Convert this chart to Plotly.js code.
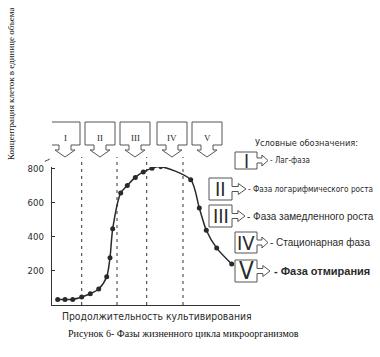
<!DOCTYPE html>
<html>
<head>
<meta charset="utf-8">
<script src="https://cdn.plot.ly/plotly-3.0.1.min.js"></script>
<style>html,body{margin:0;padding:0;background:#fff;}#chart{width:380px;height:357px;}</style>
</head>
<body>
<div id="chart"></div>
<script>
// ---- data (time in arbitrary units, concentration in cells per unit volume) ----
var timePoints = [5.7, 13, 20.7, 29.7, 38.3, 46.7, 54.7, 58, 60.7, 68.7, 75.3, 83.3, 91.3, 100, 108.7, 138.7, 147.3, 154.3, 164.7, 179.7];
var concentration = [33, 33, 33, 47, 66, 94, 166, 278, 447, 657, 702, 749, 781, 802, 812, 735, 569, 439, 334, 241];
var phaseBoundaries = [29.7, 65, 94.7, 131];
var phaseLabels = ['I', 'II', 'III', 'IV', 'V'];
var phaseNames = ['- Лаг-фаза', '- Фаза логарифмического роста', '- Фаза замедленного роста', '- Стационарная фаза', '- Фаза отмирания'];
var yTicks = [200, 400, 600, 800];

// ---- layout helpers (pixel -> paper) ----
var L = 52, R = 240, T = 167, B = 305;
function px(x) { return (x - L) / (R - L); }
function py(y) { return (B - y) / (B - T); }

var NARROW = 'Liberation Sans Narrow, Arial Narrow, DejaVu Sans Condensed, sans-serif';
var SANS = 'Liberation Sans, Arial, sans-serif';
var SERIF = 'Liberation Serif, Times New Roman, serif';
var INK = '#2a2a2a';

var shapes = [];
var annotations = [];

// dashed phase boundaries
phaseBoundaries.forEach(function (b) {
  shapes.push({type: 'line', xref: 'x', yref: 'paper', x0: b, x1: b, y0: 0, y1: py(157),
    line: {color: '#333', width: 1, dash: '3px,4px'}, layer: 'below'});
});

// top callout boxes with down arrows
var topCenters = [13, 48, 83, 120, 155];
topCenters.forEach(function (c, i) {
  var pts = [[c - 15, 122], [c + 15, 122], [c + 15, 145], [c + 6, 145], [c + 6, 150], [c + 10, 150], [c, 157],
             [c - 10, 150], [c - 6, 150], [c - 6, 145], [c - 15, 145]];
  var d = pts.map(function (p, k) { return (k ? 'L' : 'M') + p[0] + ',' + py(p[1]); }).join(' ') + ' Z';
  shapes.push({type: 'path', xref: 'x', yref: 'paper', path: d, line: {color: '#555', width: 1}, fillcolor: 'rgba(255,255,255,0)'});
  annotations.push({xref: 'x', yref: 'paper', x: c, y: py(138), text: phaseLabels[i], showarrow: false,
    font: {family: SERIF, size: 9, color: INK}, xanchor: 'center', yanchor: 'middle'});
});

// legend boxes with right arrows
var legendBoxes = [
  {x0: 235, x1: 257, y0: 152, y1: 169, tip: 268, tx: 268, fs: 8, ff: NARROW, nf: 19, bold: false},
  {x0: 209, x1: 232, y0: 178, y1: 200, tip: 246, tx: 246, fs: 8.2, ff: NARROW, nf: 20, bold: false},
  {x0: 209, x1: 232, y0: 205, y1: 227, tip: 245, tx: 245, fs: 10, ff: SANS, nf: 20, bold: false},
  {x0: 235, x1: 257, y0: 232, y1: 253, tip: 268, tx: 268, fs: 10, ff: SANS, nf: 20, bold: false},
  {x0: 235, x1: 257, y0: 260, y1: 282, tip: 270, tx: 272, fs: 11, ff: SANS, nf: 24, bold: true}
];
legendBoxes.forEach(function (b, i) {
  var cy = (b.y0 + b.y1) / 2;
  var s = b.x1 + (b.tip - b.x1) * 0.45;
  var pts = [[b.x0, b.y0], [b.x1, b.y0], [b.x1, cy - 2.5], [s, cy - 2.5], [s, cy - 5.5], [b.tip, cy],
             [s, cy + 5.5], [s, cy + 2.5], [b.x1, cy + 2.5], [b.x1, b.y1], [b.x0, b.y1]];
  var d = pts.map(function (p, k) { return (k ? 'L' : 'M') + px(p[0]) + ',' + py(p[1]); }).join(' ') + ' Z';
  shapes.push({type: 'path', xref: 'paper', yref: 'paper', path: d, line: {color: '#555', width: 1}, fillcolor: 'rgba(255,255,255,0)'});
  annotations.push({xref: 'paper', yref: 'paper', x: px((b.x0 + b.x1) / 2), y: py(cy), text: phaseLabels[i], showarrow: false,
    font: {family: NARROW, size: b.nf, color: INK}, xanchor: 'center', yanchor: 'middle'});
  var t = b.bold ? '<b>' + phaseNames[i] + '</b>' : phaseNames[i];
  annotations.push({xref: 'paper', yref: 'paper', x: px(b.tx), y: py(cy), text: t, showarrow: false,
    font: {family: b.ff, size: b.fs, color: INK}, xanchor: 'left', yanchor: 'middle'});
});

annotations.push({xref: 'paper', yref: 'paper', x: px(253), y: py(142), text: 'Условные обозначения:', showarrow: false,
  font: {family: NARROW, size: 9.2, color: INK}, xanchor: 'left', yanchor: 'middle'});
annotations.push({xref: 'paper', yref: 'paper', x: px(157), y: py(316), text: 'Продолжительность культивирования', showarrow: false,
  font: {family: NARROW, size: 10.3, color: INK}, xanchor: 'center', yanchor: 'middle'});
annotations.push({xref: 'paper', yref: 'paper', x: px(183), y: py(333), text: 'Рисунок 6- Фазы жизненного цикла микроорганизмов', showarrow: false,
  font: {family: SERIF, size: 10, color: '#111'}, xanchor: 'center', yanchor: 'middle'});
annotations.push({xref: 'paper', yref: 'paper', x: px(11), y: py(84), text: 'Концентрация клеток в единице объема', showarrow: false,
  textangle: -90, font: {family: SERIF, size: 9, color: '#111'}, xanchor: 'center', yanchor: 'middle'});
annotations.push({xref: 'paper', yref: 'paper', x: px(47), y: py(160), text: '~', showarrow: false, textangle: -35,
  font: {family: SANS, size: 11, color: INK}, xanchor: 'center', yanchor: 'middle'});

var trace = {
  x: timePoints, y: concentration, type: 'scatter', mode: 'lines+markers',
  line: {color: INK, width: 1.5, shape: 'spline', smoothing: 0.75},
  marker: {color: INK, size: 5}, hoverinfo: 'none'
};

var layout = {
  width: 380, height: 357,
  margin: {l: L, r: 380 - R, t: T, b: 357 - B},
  paper_bgcolor: '#fff', plot_bgcolor: '#fff',
  showlegend: false,
  xaxis: {range: [0, 188], showgrid: false, zeroline: false, showline: true, linecolor: '#333', linewidth: 1.2,
    showticklabels: false, ticks: ''},
  yaxis: {range: [0, 810], showgrid: false, zeroline: false, showline: true, linecolor: '#333', linewidth: 1.2,
    tickvals: yTicks, ticks: 'inside', ticklen: 3, tickcolor: '#333', ticklabelstandoff: 5,
    tickfont: {family: NARROW, size: 9.5, color: INK}},
  shapes: shapes,
  annotations: annotations
};

Plotly.newPlot('chart', [trace], layout, {staticPlot: true, displayModeBar: false});
</script>
</body>
</html>
